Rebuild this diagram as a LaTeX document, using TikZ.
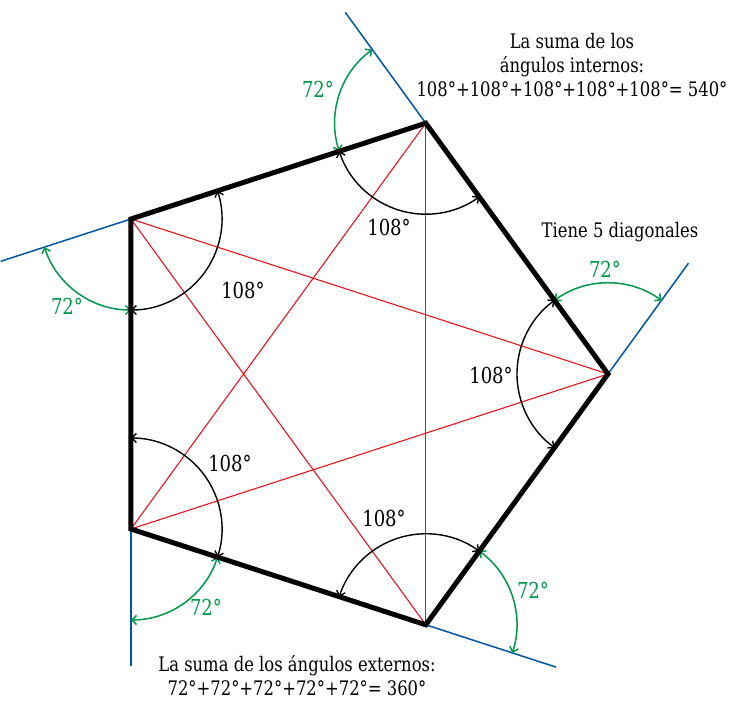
\documentclass[tikz,border=0pt]{standalone}
\usepackage{fontspec}
\setmainfont{DejaVu Serif}[FakeStretch=0.82]
\usetikzlibrary{arrows.meta}
\definecolor{pblue}{HTML}{0055A5}
\definecolor{pgreen}{HTML}{00984A}
\definecolor{pred}{HTML}{E8141C}
\begin{document}
\begin{tikzpicture}[x=1pt,y=1pt,
  side/.style={line width=5pt,line join=miter},
  diag/.style={pred,line width=1.1pt},
  extline/.style={pblue,line width=1.5pt},
  intarc/.style={line width=1.4pt,{Straight Barb[length=4.5pt,width=9pt]}-{Straight Barb[length=4.5pt,width=9pt]}},
  extarc/.style={pgreen,line width=1.5pt,{Straight Barb[length=4.5pt,width=9pt]}-{Straight Barb[length=4.5pt,width=9pt]}},
  lbl/.style={font=\fontsize{22}{24}\selectfont,inner sep=0pt},
  glbl/.style={lbl,text=pgreen},
  txt/.style={font=\fontsize{20}{24}\selectfont,align=center,inner sep=0pt}]
\useasboundingbox (0,0) rectangle (731,701);
\coordinate (O) at (344.3,327);
\foreach \n/\t in {C/0,B/72,A/144,E/216,D/288}{
  \path (O) ++(\t:263.7pt) coordinate (\n);
}
% diagonals
\draw[diag] (A) -- (C);
\draw[diag] (A) -- (D);
\draw[diag] (B) -- (D);
\draw[diag] (B) -- (E);
\draw[diag] (C) -- (E);
% extensions and arcs
\foreach \n/\t in {C/0,B/72,A/144,E/216,D/288}{
  \pgfmathsetmacro{\ia}{\t-234}
  \pgfmathsetmacro{\ib}{\t-126}
  \pgfmathsetmacro{\ea}{\t+54}
  \pgfmathsetmacro{\eb}{\t+126}
  \path (\n) ++(\ea:137pt) coordinate (\n x);
  \draw[extline] (\n) -- (\n x);
  \draw[intarc] (\n) ++(\ia:91pt) arc[start angle=\ia, end angle=\ib, radius=91pt];
  \draw[extarc] (\n) ++(\ea:91pt) arc[start angle=\ea, end angle=\eb, radius=91pt];
}
\draw[side] (A) -- (B) -- (C) -- (D) -- (E) -- cycle;
% angle labels
\node[lbl] (la) at (243,411) {108°};
\node[glbl] (ga) at (67,395) {72°};
\node[lbl] (lb) at (389,474) {108°};
\node[glbl] (gb) at (318,612) {72°};
\node[lbl] (lc) at (491,326) {108°};
\node[glbl] (gc) at (605,432) {72°};
\node[lbl] (ld) at (384,183) {108°};
\node[glbl] (gd) at (533,111) {72°};
\node[lbl] (le) at (230,238) {108°};
\node[glbl] (ge) at (206,94) {72°};
% texts
\node[txt] (t1) at (572,636) {La suma de los\\ángulos internos:\\108°+108°+108°+108°+108°= 540°};
\node[txt] (t2) at (620,469) {Tiene 5 diagonales};
\node[txt] (t3) at (297,25) {La suma de los ángulos externos:\\72°+72°+72°+72°+72°= 360°};
\end{tikzpicture}
\end{document}
